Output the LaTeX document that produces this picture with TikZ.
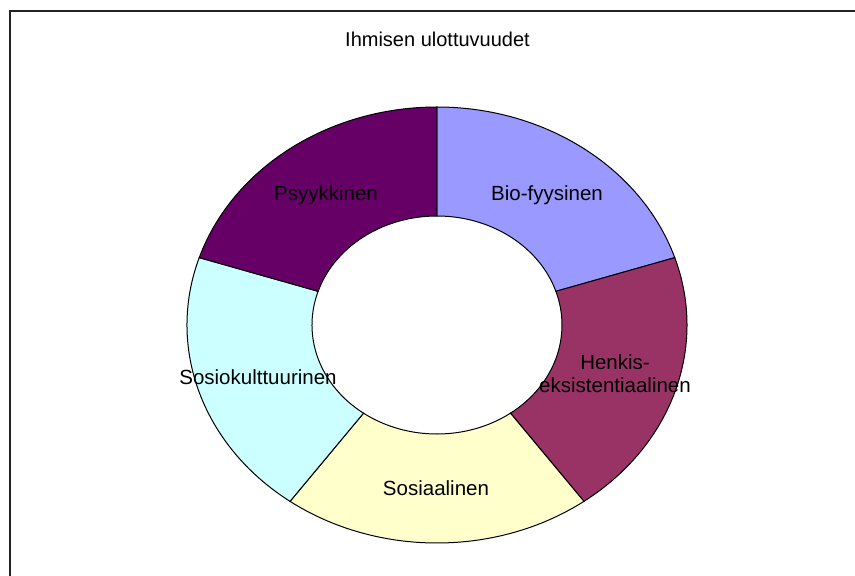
\documentclass[tikz,border=0pt]{standalone}
\usepackage{fontspec}
\setmainfont{Liberation Sans}
\definecolor{bio}{HTML}{9999FF}
\definecolor{henkis}{HTML}{993366}
\definecolor{sosiaali}{HTML}{FFFFCC}
\definecolor{sosiokult}{HTML}{CCFFFF}
\definecolor{psyyk}{HTML}{660066}
\definecolor{frameline}{HTML}{222222}
\tikzset{
  slice/.style={draw=black, line width=1pt},
  lbl/.style={font=\fontsize{20.5}{23}\selectfont, text=black, inner sep=0pt, align=center},
  ttl/.style={font=\fontsize{20}{24}\selectfont, text=black, inner sep=0pt},
}
% one ring sector between param angles #2 (start) and #3 (end)
\newcommand{\ringslice}[3]{%
  \path[slice, fill=#1] (#2:250 and 218)
    arc[start angle=#2, end angle=#3, x radius=250, y radius=218]
    -- (#3:125 and 109)
    arc[start angle=#3, end angle=#2, x radius=125, y radius=109]
    -- cycle;}
\begin{document}
\begin{tikzpicture}[x=1pt, y=1pt]
  \useasboundingbox (-437,-251) rectangle (418,325);
  \fill[white] (-437,-251) rectangle (418,325);
  % chart frame (top and left edges)
  \draw[frameline, line width=2pt] (418,314) -- (-427,314) -- (-427,-251);
  \node[ttl] (title) at (0.5,286) {Ihmisen ulottuvuudet};
  % donut
  \ringslice{bio}{90}{18}
  \ringslice{henkis}{18}{-54}
  \ringslice{sosiaali}{-54}{-126}
  \ringslice{sosiokult}{-126}{-198}
  \ringslice{psyyk}{162}{90}
  % labels
  \node[lbl] (lbio) at (110,130) {Bio-fyysinen};
  \node[lbl] (lhenkis) at (178,-49) {Henkis-\\eksistentiaalinen};
  \node[lbl] (lsosiaali) at (-1,-163) {Sosiaalinen};
  \node[lbl] (lsosiokult) at (-179,-52) {Sosiokulttuurinen};
  \node[lbl] (lpsyyk) at (-111,130) {Psyykkinen};
\end{tikzpicture}
\end{document}
